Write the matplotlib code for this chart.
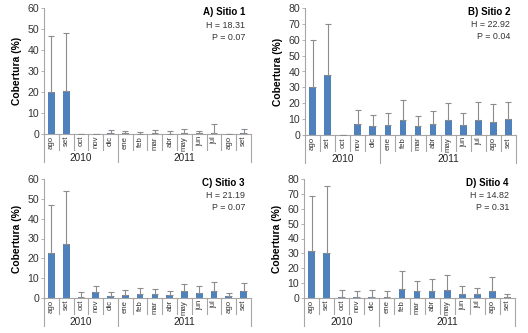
import numpy as np
import matplotlib
matplotlib.use("Agg")
import matplotlib.pyplot as plt
import matplotlib.transforms as mtransforms

plt.rcParams['font.family'] = ['Liberation Sans', 'DejaVu Sans']

meses = ["ago", "set", "oct", "nov", "dic", "ene", "feb", "mar", "abr",
         "may", "jun", "jul", "ago", "set"]
anios = ["2010", "2011"]

# medias y limite superior de la barra de error (%)
s1_media = [20, 20.6, 0, 0, 0.3, 0.3, 0.2, 0.3, 0.2, 0.3, 0.3, 0.5, 0, 0.3]
s1_sup = [46.8, 48, 0, 0, 2, 1.5, 1, 1.8, 1.3, 2.3, 1.5, 5, 0, 2.3]
s2_media = [30, 38, 0, 7, 5.5, 6.5, 9.5, 5.5, 7, 9.5, 6, 9.5, 8.5, 10]
s2_sup = [60, 70, 0, 16, 12.5, 14, 22, 12, 15, 20, 14, 20.5, 19.5, 21]
s3_media = [22.5, 27, 0.5, 3, 1, 1.5, 2, 2, 1.3, 3.3, 2.5, 3.5, 0.8, 3.3]
s3_sup = [47, 54, 3, 6, 3, 4, 5, 4.5, 3.5, 7.3, 6, 8, 2.5, 7.5]
s4_media = [31.5, 30.5, 1, 0.5, 1, 0.5, 6, 4.5, 5, 5.5, 3, 2.5, 4.5, 1]
s4_sup = [68.5, 75, 5.5, 5, 5.5, 5, 18, 11.5, 12.5, 15.5, 8, 6.5, 14, 2.5]

titulos = ["A) Sitio 1", "B) Sitio 2", "C) Sitio 3", "D) Sitio 4"]
H = ["18.31", "22.92", "21.19", "14.82"]
P = ["0.07", "0.04", "0.07", "0.31"]
ymax = [60, 80, 60, 80]

W, Hpx = 528, 333
fig = plt.figure(figsize=(W / 100, Hpx / 100), dpi=100)

# (izq, der, arriba, abajo) en pixeles
cajas = [(44, 251, 8, 134), (305, 516, 8, 135), (44, 251, 179, 298), (304, 515, 179, 298)]
datos = [(s1_media, s1_sup), (s2_media, s2_sup), (s3_media, s3_sup), (s4_media, s4_sup)]

azul = "#4f81bd"
gris = "#a6a6a6"

for k in range(4):
    l, r, t, b = cajas[k]
    ax = fig.add_axes([l / W, (Hpx - b) / Hpx, (r - l) / W, (b - t) / Hpx])
    media, sup = datos[k]
    x = np.arange(len(meses))
    media = np.array(media)
    err = np.array(sup) - media
    ax.bar(x, media, width=0.45, color=azul, zorder=2)
    ax.errorbar(x, media, yerr=[np.zeros_like(err), err], fmt="none",
                ecolor="#8c8c8c", elinewidth=0.8, capsize=2.2, capthick=0.8, zorder=3)
    ax.set_xlim(-0.5, len(meses) - 0.5)
    ax.set_ylim(0, ymax[k])
    ax.set_yticks(np.arange(0, ymax[k] + 1, 10))
    ax.tick_params(axis="y", labelsize=7.6, length=2, width=0.6, color=gris, pad=1.5,
                   labelcolor="#333333")
    ax.set_xticks([])
    for s in ["top", "right"]:
        ax.spines[s].set_visible(False)
    for s in ["left", "bottom"]:
        ax.spines[s].set_color(gris)
        ax.spines[s].set_linewidth(0.8)
    ax.set_ylabel("Cobertura (%)", fontsize=7.4, fontweight="bold", labelpad=4)

    alto = b - t
    tr = mtransforms.blended_transform_factory(ax.transData, ax.transAxes)
    # separadores de meses y de anios
    for i in range(len(meses) + 1):
        xs = i - 0.5
        largo = 28 if i in (0, 5, 14) else 16
        ax.plot([xs, xs], [0, -largo / alto], transform=tr, color=gris, lw=0.8,
                clip_on=False)
    for i, m in enumerate(meses):
        ax.text(i, -2 / alto, m, transform=tr, rotation=90, ha="center", va="top",
                fontsize=5.6, color="#333333")
    ax.text(2, -24 / alto, anios[0], transform=tr, ha="center", va="center",
            fontsize=7.2, color="#222222")
    ax.text(9, -24 / alto, anios[1], transform=tr, ha="center", va="center",
            fontsize=7.2, color="#222222")

    xr = (r - 6 - l) / (r - l)
    ax.text(xr, 1 - 4 / alto, titulos[k], transform=ax.transAxes, ha="right",
            va="center", fontsize=7, fontweight="bold")
    ax.text(xr, 1 - 17 / alto, "H = " + H[k], transform=ax.transAxes, ha="right",
            va="center", fontsize=6.4, color="#333333")
    ax.text(xr, 1 - 29 / alto, "P = " + P[k], transform=ax.transAxes, ha="right",
            va="center", fontsize=6.4, color="#333333")

fig.savefig("out.png", dpi=100)
